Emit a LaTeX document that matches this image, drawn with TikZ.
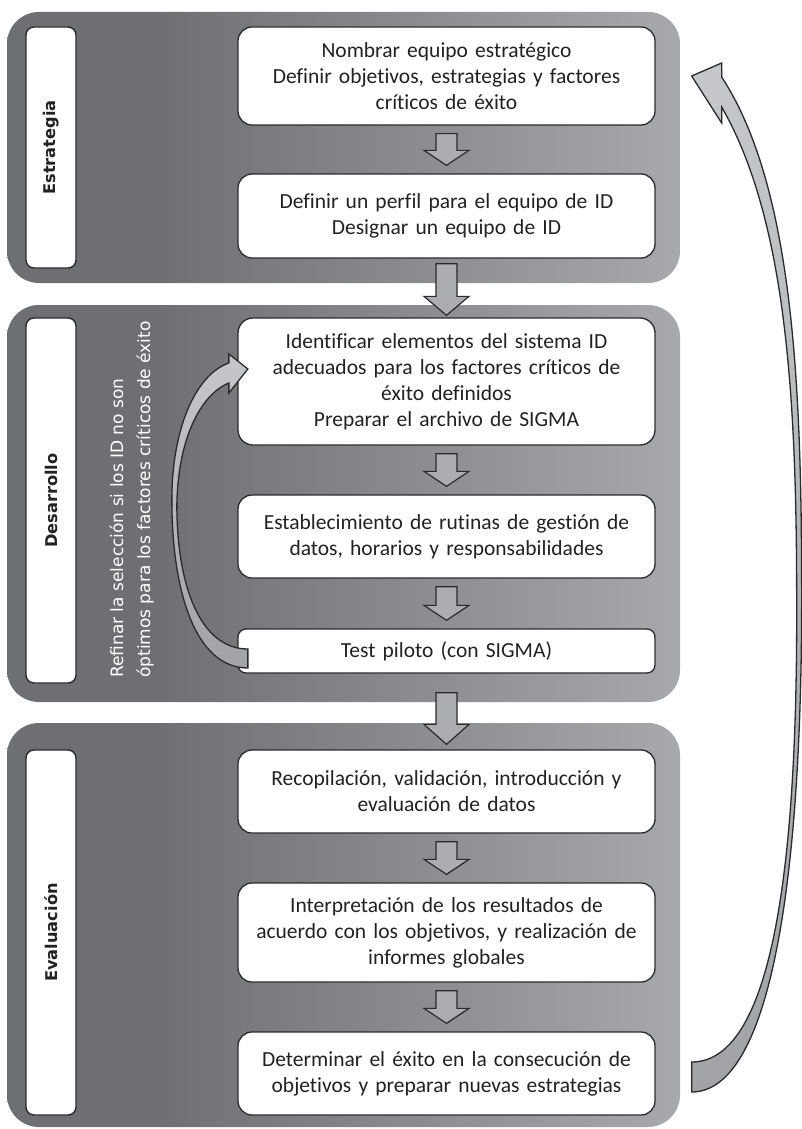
\documentclass[tikz,border=0pt]{standalone}
\usepackage{fontspec}
\usepackage{graphicx}
\setmainfont{Carlito}[Ligatures={NoCommon,NoRequired,NoContextual},Contextuals={NoAlternate},RawFeature={-liga;-clig;-calt;-dlig}]
\newfontfamily\labelfont{DejaVu Sans}
\usetikzlibrary{calc}

\definecolor{ink}{HTML}{222222}
\definecolor{edge}{HTML}{2A2A2C}
\definecolor{pdark}{HTML}{6E6F73}
\definecolor{plight}{HTML}{A8A9AD}
\definecolor{arrowfill}{HTML}{ACADB1}
\definecolor{curvetop}{HTML}{C6C7CB}
\definecolor{curvebot}{HTML}{A2A3A7}

% panel background: dark on the left, lighter towards the right
\pgfdeclarehorizontalshading{panelshade}{100bp}{color(0bp)=(pdark); color(25bp)=(pdark); color(36bp)=(pdark); color(75bp)=(plight); color(100bp)=(plight)}

% straight block arrow pointing down: #1 top, #2 tip, #3 head length
\newcommand{\blockdown}[3]{%
  \path[blockar] let \p1=(#1), \p2=(#2) in
    (\x1-10.5pt,\y1) -- (\x1+10.5pt,\y1) -- (\x1+10.5pt,\y2+#3pt) --
    (\x1+22.5pt,\y2+#3pt) -- (\x1,\y2) -- (\x1-22.5pt,\y2+#3pt) --
    (\x1-10.5pt,\y2+#3pt) -- cycle;}

\begin{document}
\begin{tikzpicture}[x=1pt,y=-1pt,
  panel/.style={shade, shading=panelshade, rounded corners=32pt, inner sep=0pt,
    outer sep=0pt, minimum width=673},
  lbl/.style={draw=edge, line width=1.4pt, fill=white, rounded corners=8pt,
    inner sep=0pt, minimum width=50, text=ink,
    font=\labelfont\bfseries\fontsize{16.2}{19}\selectfont},
  stepbox/.style={draw=edge, line width=1.3pt, fill=white, rounded corners=14pt,
    minimum width=417, text width=405, align=center, inner sep=0pt, text=ink,
    font=\fontsize{21.5}{26}\selectfont},
  note/.style={text=white, align=left, inner sep=0pt,
    font=\labelfont\fontsize{17}{27}\selectfont},
  blockar/.style={fill=arrowfill, draw=edge, line width=1.2pt, line join=miter},
  curvear/.style={draw=edge, line width=1.3pt, line join=miter,
    top color=curvetop, bottom color=curvebot}]

\useasboundingbox (0,0) rectangle (802,1129);

% three stage panels
\node[panel, minimum height=271] (p1) at (343.5,147.5) {};
\node[panel, minimum height=397] (p2) at (343.5,503.5) {};
\node[panel, minimum height=404] (p3) at (343.5,925) {};

% stage labels
\node[lbl, minimum height=241] (l1) at (51,147.5) {\rotatebox{90}{Estrategia}};
\node[lbl, minimum height=365] (l2) at (51,500.5) {\rotatebox{90}{Desarrollo}};
\node[lbl, minimum height=365] (l3) at (51,932.5) {\rotatebox{90}{Evaluación}};

% steps
\node[stepbox, minimum height=98] (b1) at (446.5,76)
  {Nombrar equipo estratégico\\Definir objetivos, estrategias y factores\\críticos de éxito};
\node[stepbox, minimum height=84] (b2) at (446.5,216)
  {Definir un perfil para el equipo de ID\\Designar un equipo de ID};
\node[stepbox, minimum height=127, rounded corners=15pt] (b3) at (446.5,381.5)
  {Identificar elementos del sistema ID\\adecuados para los factores críticos de\\éxito definidos\\Preparar el archivo de SIGMA};
\node[stepbox, minimum height=83] (b4) at (446.5,536.5)
  {Establecimiento de rutinas de gestión de\\datos, horarios y responsabilidades};
\node[stepbox, minimum height=44, rounded corners=8pt] (b5) at (446.5,651)
  {Test piloto (con SIGMA)};
\node[stepbox, minimum height=83] (b6) at (446.5,791.5)
  {Recopilación, validación, introducción y\\evaluación de datos};
\node[stepbox, minimum height=99] (b7) at (446.5,932.5)
  {Interpretación de los resultados de\\acuerdo con los objetivos, y realización de\\informes globales};
\node[stepbox, minimum height=83] (b8) at (446.5,1073.5)
  {Determinar el éxito en la consecución de\\objetivos y preparar nuevas estrategias};

% feedback note inside the development stage
\node[note, rotate=90, anchor=west] (rnote) at (131.5,678)
  {Refinar la selección si los ID no son\\óptimos para los factores críticos de éxito};

% arrows between steps
\blockdown{$(b1.south)+(0,8)$}{$(b2.north)+(0,-8)$}{15}
\blockdown{$(b3.south)+(0,8)$}{$(b4.north)+(0,-8)$}{15}
\blockdown{$(b4.south)+(0,8)$}{$(b5.north)+(0,-8)$}{15}
\blockdown{$(b6.south)+(0,8)$}{$(b7.north)+(0,-8)$}{15}
\blockdown{$(b7.south)+(0,8)$}{$(b8.north)+(0,-8)$}{15}
% arrows between stages
\blockdown{$(b2.south)+(0,5)$}{$(b3.north)+(0,-2)$}{19}
\blockdown{$(b5.south)+(0,19)$}{$(b6.north)+(0,-5)$}{20}

% curved return arrow from the pilot test back to the first development step
\coordinate (rtip) at ($(b3.west)+(10.5,-12.5)$);
\coordinate (rtail) at ($(b5.west)+(10.5,7.5)$);
\path[curvear] (rtip) -- ($(rtip)+(-19,-15)$) -- ($(rtip)+(-19,-6)$)
  .. controls ($(rtip)+(-53,6)$) and ($(rtip)+(-76,61)$) .. ($(rtip)+(-76,131)$)
  .. controls ($(rtail)+(-76,-68.5)$) and ($(rtail)+(-53,9.5)$) .. ($(rtail)+(0,9.5)$)
  -- ($(rtail)+(0,-9.5)$)
  .. controls ($(rtail)+(-48,-9.5)$) and ($(rtail)+(-71,-73.5)$) .. ($(rtip)+(-71,136)$)
  .. controls ($(rtip)+(-70,71)$) and ($(rtip)+(-48,26)$) .. ($(rtip)+(-19,14)$)
  -- ($(rtip)+(-19,24)$) -- cycle;

% curved return arrow from the last step back to the strategy stage
\coordinate (ftip) at ($(b1.east)+(36,0)$);
\coordinate (ftail) at ($(b8.east)+(36,3.5)$);
\path[curvear] (ftip) -- ($(ftip)+(30,-13)$) -- ($(ftip)+(30,1)$)
  .. controls ($(ftip)+(104,114)$) and ($(ftip)+(110,324)$) .. ($(ftip)+(110,524)$)
  .. controls ($(ftail)+(110,-197)$) and ($(ftail)+(79,15)$) .. ($(ftail)+(0,15)$)
  -- ($(ftail)+(0,-15)$)
  .. controls ($(ftail)+(84,-15)$) and ($(ftail)+(106,-227)$) .. ($(ftip)+(105,524)$)
  .. controls ($(ftip)+(105,324)$) and ($(ftip)+(95,144)$) .. ($(ftip)+(30,31)$)
  -- ($(ftip)+(30,47)$) -- cycle;

\end{tikzpicture}
\end{document}
